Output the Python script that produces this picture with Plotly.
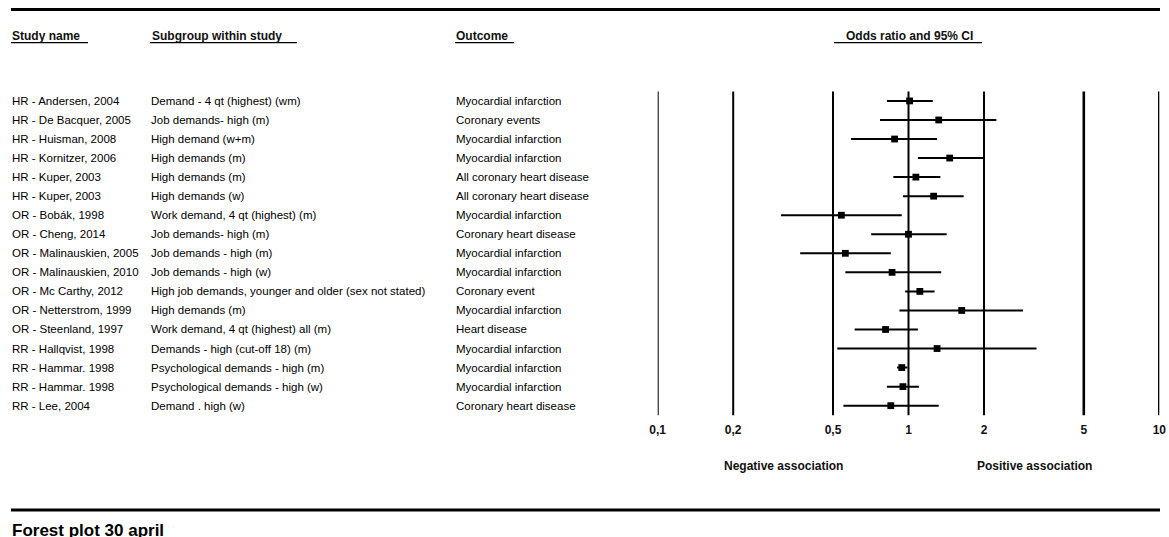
import plotly.graph_objects as go

# ---------------- data ----------------
studies = ["HR - Andersen, 2004", "HR - De Bacquer, 2005", "HR - Huisman, 2008",
           "HR - Kornitzer, 2006", "HR - Kuper, 2003", "HR - Kuper, 2003",
           "OR - Bobák, 1998", "OR - Cheng, 2014", "OR - Malinauskien, 2005",
           "OR - Malinauskien, 2010", "OR - Mc Carthy, 2012", "OR - Netterstrom, 1999",
           "OR - Steenland, 1997", "RR - Hallqvist, 1998", "RR - Hammar. 1998",
           "RR - Hammar. 1998", "RR - Lee, 2004"]
subgroups = ["Demand - 4 qt (highest) (wm)", "Job demands- high (m)", "High demand (w+m)",
             "High demands (m)", "High demands (m)", "High demands (w)",
             "Work demand, 4 qt (highest) (m)", "Job demands- high (m)",
             "Job demands - high (m)", "Job demands - high (w)",
             "High job demands, younger and older (sex not stated)", "High demands (m)",
             "Work demand, 4 qt (highest) all (m)", "Demands - high (cut-off 18) (m)",
             "Psychological demands - high (m)", "Psychological demands - high (w)",
             "Demand . high (w)"]
outcomes = ["Myocardial infarction", "Coronary events", "Myocardial infarction",
            "Myocardial infarction", "All coronary heart disease", "All coronary heart disease",
            "Myocardial infarction", "Coronary heart disease", "Myocardial infarction",
            "Myocardial infarction", "Coronary event", "Myocardial infarction",
            "Heart disease", "Myocardial infarction", "Myocardial infarction",
            "Myocardial infarction", "Coronary heart disease"]
odds_ratio = [1.01, 1.32, 0.88, 1.46, 1.07, 1.26, 0.54, 1.00, 0.56, 0.86, 1.11, 1.63, 0.81, 1.30, 0.94, 0.95, 0.85]
ci_lower   = [0.82, 0.77, 0.59, 1.09, 0.87, 0.95, 0.31, 0.71, 0.37, 0.56, 0.97, 0.92, 0.61, 0.52, 0.90, 0.82, 0.55]
ci_upper   = [1.25, 2.24, 1.30, 2.00, 1.34, 1.66, 0.94, 1.42, 0.85, 1.35, 1.27, 2.86, 1.09, 3.24, 0.99, 1.10, 1.32]
tick_values = [0.1, 0.2, 0.5, 1, 2, 5, 10]
tick_labels = ["0,1", "0,2", "0,5", "1", "2", "5", "10"]
headers = ["Study name", "Subgroup within study", "Outcome", "Odds ratio and 95% CI"]

# ---------------- layout helpers ----------------
W, H = 1169, 537
FONT = "Liberation Sans, Arial, sans-serif"


def px(x):
    return x / W


def py(y):
    return (H - y) / H


rows = list(range(1, len(studies) + 1))
y_top, y_bot = 91.4, 415.2

fig = go.Figure()
fig.add_trace(go.Scatter(
    x=odds_ratio, y=rows, mode="markers",
    marker=dict(symbol="square", size=6.8, color="black", line=dict(width=0)),
    error_x=dict(type="data", symmetric=False,
                 array=[u - o for u, o in zip(ci_upper, odds_ratio)],
                 arrayminus=[o - l for o, l in zip(odds_ratio, ci_lower)],
                 thickness=2, width=0, color="black"),
    hoverinfo="skip", cliponaxis=False,
))

ann = []
txt_font = dict(family=FONT, size=11.5, color="#000")
col_x = [11, 150, 455]
for col, texts in zip(col_x, [studies, subgroups, outcomes]):
    for r, t in zip(rows, texts):
        ann.append(dict(text=t, x=px(col), xref="paper", y=r, yref="y",
                        xanchor="left", yanchor="middle", showarrow=False,
                        font=txt_font, borderpad=0))

hdr_font = dict(family=FONT, size=12, color="#111", weight="bold")
hdr_pos = [(11, "left"), (151, "left"), (455, "left"), (909, "center")]
for (x, anc), t in zip(hdr_pos, headers):
    ann.append(dict(text=t, x=px(x), xref="paper", y=py(35.7), yref="paper",
                    xanchor=anc, yanchor="middle", showarrow=False,
                    font=hdr_font, borderpad=0))

ann.append(dict(text="Negative association", x=px(783), xref="paper", y=py(466), yref="paper",
                xanchor="center", yanchor="middle", showarrow=False, font=hdr_font, borderpad=0))
ann.append(dict(text="Positive association", x=px(1034), xref="paper", y=py(466), yref="paper",
                xanchor="center", yanchor="middle", showarrow=False, font=hdr_font, borderpad=0))
ann.append(dict(text="Forest plot 30 april", x=px(11), xref="paper", y=py(520), yref="paper",
                xanchor="left", yanchor="top", showarrow=False,
                font=dict(family=FONT, size=17, color="#000", weight="bold"), borderpad=0))

shapes = []
# vertical reference lines at each tick
for v in tick_values:
    shapes.append(dict(type="line", xref="x", yref="paper", x0=v, x1=v,
                       y0=py(y_bot), y1=py(y_top),
                       line=dict(color="black", width=2.6 if v >= 5 else 2), layer="below"))
# header underlines
for x0, x1 in [(11, 88), (150, 297), (455, 514), (834, 982)]:
    shapes.append(dict(type="line", xref="paper", yref="paper", x0=px(x0), x1=px(x1),
                       y0=py(42.7), y1=py(42.7), line=dict(color="black", width=1.3)))
# top and bottom rules
for yy in [9.5, 510]:
    shapes.append(dict(type="line", xref="paper", yref="paper", x0=px(11), x1=px(1160),
                       y0=py(yy), y1=py(yy), line=dict(color="black", width=3)))

fig.update_layout(
    width=W, height=H, margin=dict(l=0, r=0, t=0, b=0, autoexpand=False),
    paper_bgcolor="white", plot_bgcolor="white", showlegend=False,
    annotations=ann, shapes=shapes,
    xaxis=dict(type="log", range=[-1, 1], domain=[px(657.7), px(1159.3)],
               tickvals=tick_values, ticktext=tick_labels,
               showgrid=False, zeroline=False, showline=False, ticks="",
               ticklabelstandoff=6, automargin=False,
               tickfont=dict(family=FONT, size=12, color="#111", weight="bold")),
    yaxis=dict(range=[17.5, 0.5], domain=[py(y_bot), py(y_top)], automargin=False,
               showgrid=False, zeroline=False, showticklabels=False, showline=False),
)

fig.write_html("out.html",
               config={"displayModeBar": False, "staticPlot": True},
               post_script="document.body.style.margin='0';"
                           "document.body.style.padding='0';"
                           "document.documentElement.style.overflow='hidden';")
